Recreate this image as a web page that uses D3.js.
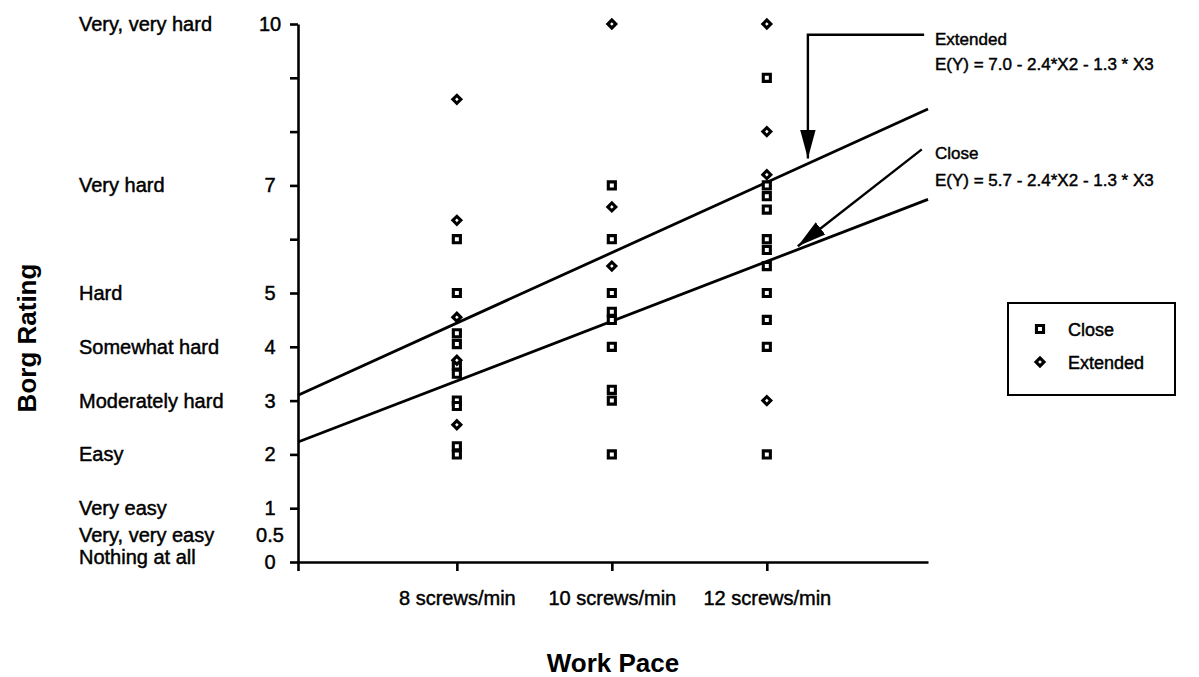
<!DOCTYPE html>
<html>
<head>
<meta charset="utf-8">
<script src="https://cdn.jsdelivr.net/npm/d3@7"></script>
<style>
	body { margin: 0; background: #fff; }
	svg text { font-family: "Liberation Sans", Arial, Helvetica, sans-serif; fill: #000; }
	svg text.heavy { stroke: #000; stroke-width: 0.45px; }
</style>
</head>
<body>
<script>
// work pace categories (x)
var paceValues = [8, 10, 12];
var paceLabels = ["8 screws/min", "10 screws/min", "12 screws/min"];
var xDomain = [5.95, 14.08];

// Borg scale (y)
var yTickValues = [0, 1, 2, 3, 4, 5, 6, 7, 8, 9, 10];
var yLabelValues = [10, 7, 5, 4, 3, 2, 1, 0.5, 0];
var yLabelNumbers = ["10", "7", "5", "4", "3", "2", "1", "0.5", "0"];
var yLabelWords = ["Very, very hard", "Very hard", "Hard", "Somewhat hard", "Moderately hard",
	"Easy", "Very easy", "Very, very easy", "Nothing at all"];

// ratings read per pace
var close8 = [6.0, 5.0, 4.25, 4.05, 3.65, 3.5, 3.0, 2.9, 2.15, 2.0];
var extended8 = [8.6, 6.35, 4.55, 3.75, 2.55];
var close10 = [7.0, 6.0, 5.0, 4.65, 4.5, 4.0, 3.2, 3.0, 2.0];
var extended10 = [10, 6.6, 5.5];
var close12 = [9.0, 7.0, 6.8, 6.55, 6.0, 5.8, 5.5, 5.0, 4.5, 4.0, 2.0];
var extended12 = [10, 8.0, 7.2, 3.0];

// fitted lines, rating at both ends of the axis
var extendedFit = [3.1, 8.42];
var closeFit = [2.23, 6.74];

var svg = d3.select("body").append("svg").attr("width", 1199).attr("height", 677);

var x = d3.scaleLinear().domain(xDomain).range([298, 928]);
var y = d3.scaleLinear().domain([0, 10]).range([562, 24]);

// axes
var yAxis = d3.axisLeft(y).tickValues(yTickValues).tickSize(8).tickSizeOuter(0).tickFormat("");
svg.append("g").attr("transform", "translate(" + x(xDomain[0]) + ",0)").call(yAxis);

var xAxis = d3.axisBottom(x)
	.tickValues([xDomain[0]].concat(paceValues))
	.tickSize(9).tickSizeOuter(0)
	.tickFormat(function(d) { var i = paceValues.indexOf(d); return i < 0 ? "" : paceLabels[i]; });
var gx = svg.append("g").attr("transform", "translate(0," + y(0) + ")").call(xAxis);
gx.selectAll("text").attr("class", "heavy").attr("dy", 0).attr("y", 43).style("font-size", "20px");

svg.selectAll(".domain, .tick line").attr("stroke", "#000").attr("stroke-width", 2.6);

// y labels: number and verbal anchor
svg.selectAll(".ynum").data(yLabelValues).enter().append("text")
	.attr("class", "ynum heavy")
	.attr("x", 270)
	.attr("y", function(d) { return y(d) + 7; })
	.attr("text-anchor", "middle")
	.style("font-size", "20px")
	.text(function(d, i) { return yLabelNumbers[i]; });

svg.selectAll(".yword").data(yLabelValues).enter().append("text")
	.attr("class", "yword heavy")
	.attr("x", 79)
	.attr("y", function(d) { return y(d) + 7 - (d === 0 ? 5 : 0); })
	.style("font-size", "20px")
	.text(function(d, i) { return yLabelWords[i]; });

// titles
svg.append("text")
	.attr("transform", "translate(36,338) rotate(-90)")
	.attr("text-anchor", "middle")
	.style("font-size", "26px").style("font-weight", "bold")
	.text("Borg Rating");

svg.append("text")
	.attr("x", 613).attr("y", 672)
	.attr("text-anchor", "middle")
	.style("font-size", "26px").style("font-weight", "bold")
	.text("Work Pace");

// regression lines
var fitLine = d3.line()
	.x(function(d) { return x(d[0]); })
	.y(function(d) { return y(d[1]); });

[extendedFit, closeFit].forEach(function(f) {
	svg.append("path")
		.datum([[xDomain[0], f[0]], [xDomain[1], f[1]]])
		.attr("d", fitLine)
		.attr("fill", "none").attr("stroke", "#000").attr("stroke-width", 2.8);
});

// points
var squareSym = d3.symbol().type(d3.symbolSquare).size(50);
var diamondSym = d3.symbol().type(d3.symbolSquare).size(32);

function drawPoints(pace, values, isExtended) {
	svg.selectAll(null).data(values).enter().append("path")
		.attr("d", isExtended ? diamondSym : squareSym)
		.attr("transform", function(d) {
			return "translate(" + x(pace) + "," + y(d) + ")" + (isExtended ? " rotate(45)" : "");
		})
		.attr("fill", "#fff").attr("stroke", "#000").attr("stroke-width", 3.1);
}

drawPoints(8, close8, false);
drawPoints(8, extended8, true);
drawPoints(10, close10, false);
drawPoints(10, extended10, true);
drawPoints(12, close12, false);
drawPoints(12, extended12, true);

// annotation arrows
var defs = svg.append("defs");
defs.append("marker")
	.attr("id", "head")
	.attr("viewBox", "0 0 10 10")
	.attr("refX", 10).attr("refY", 5)
	.attr("markerWidth", 12).attr("markerHeight", 12)
	.attr("markerUnits", "strokeWidth")
	.attr("orient", "auto")
	.append("path").attr("d", "M0,2.3L10,5L0,7.7Z").attr("fill", "#000");

svg.append("path")
	.datum([[14.03, 9.8], [12.53, 9.8], [12.53, 7.5]])
	.attr("d", fitLine)
	.attr("fill", "none").attr("stroke", "#000").attr("stroke-width", 2.4)
	.attr("marker-end", "url(#head)");

svg.append("path")
	.datum([[14.0, 7.67], [12.4, 5.87]])
	.attr("d", fitLine)
	.attr("fill", "none").attr("stroke", "#000").attr("stroke-width", 2.4)
	.attr("marker-end", "url(#head)");

var notes = [
	{ t: "Extended", v: 9.8 },
	{ t: "E(Y) = 7.0 - 2.4*X2 - 1.3 * X3", v: 9.33 },
	{ t: "Close", v: 7.67 },
	{ t: "E(Y) = 5.7 - 2.4*X2 - 1.3 * X3", v: 7.18 }
];
svg.selectAll(".note").data(notes).enter().append("text")
	.attr("class", "note heavy")
	.attr("x", 935)
	.attr("y", function(d) { return y(d.v) + 10; })
	.style("font-size", "17px")
	.text(function(d) { return d.t; });

// legend
var legend = svg.append("g").attr("transform", "translate(1008,303)");
legend.append("rect").attr("width", 167).attr("height", 92)
	.attr("fill", "none").attr("stroke", "#000").attr("stroke-width", 2);
var legendItems = ["Close", "Extended"];
legendItems.forEach(function(name, i) {
	legend.append("path")
		.attr("d", i ? diamondSym : squareSym)
		.attr("transform", "translate(32," + (26 + i * 33) + ")" + (i ? " rotate(45)" : ""))
		.attr("fill", "#fff").attr("stroke", "#000").attr("stroke-width", 3.1);
	legend.append("text")
		.attr("class", "heavy")
		.attr("x", 60).attr("y", 33 + i * 33)
		.style("font-size", "18px")
		.text(name);
});
</script>
</body>
</html>
